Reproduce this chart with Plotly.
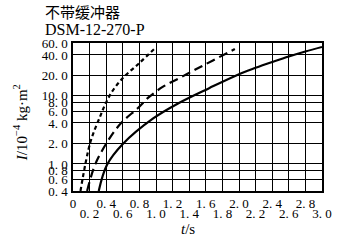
import math
import plotly.graph_objects as go

# Data
t_solid = [0.31, 0.41, 0.60, 0.97, 1.27, 1.64, 2.02, 2.2, 2.4, 2.6, 2.8, 3.0]
i_solid = [0.4, 0.97, 1.96, 4.7, 7.8, 13.0, 21.4, 25.9, 31.5, 38.0, 45.0, 52.5]

t_dash = [0.17, 0.27, 0.43, 0.58, 0.78, 0.91, 1.09, 1.29, 1.48, 1.68, 1.95]
i_dash = [0.4, 1.0, 2.27, 4.0, 6.6, 9.5, 13.8, 18.5, 24.6, 33.0, 49.0]

t_dot = [0.09, 0.21, 0.33, 0.39, 0.465, 0.60, 0.80, 0.975]
i_dot = [0.4, 2.1, 5.1, 7.6, 11.3, 18.3, 30.5, 48.5]

y_ticks = [0.4, 0.6, 0.8, 1.0, 2.0, 4.0, 6.0, 8.0, 10.0, 20.0, 40.0, 60.0]
y_labels = ["0. 4", "0. 6", "0. 8", "1. 0", "2. 0", "4. 0", "6. 0", "8. 0",
            "10. 0", "20. 0", "40. 0", "60. 0"]
x_ticks_upper = [0.0, 0.4, 0.8, 1.2, 1.6, 2.0, 2.4, 2.8]
x_labels_upper = ["0", "0. 4", "0. 8", "1. 2", "1. 6", "2. 0", "2. 4", "2. 8"]
x_ticks_lower = [0.2, 0.6, 1.0, 1.4, 1.8, 2.2, 2.6, 3.0]
x_labels_lower = ["0. 2", "0. 6", "1. 0", "1. 4", "1. 8", "2. 2", "2. 6", "3. 0"]

title1 = "不带缓冲器"
title2 = "DSM-12-270-P"
x_title = "<i>t</i>/s"
y_title = "<i>I</i>/10<sup>−4</sup> kg·m<sup>2</sup>"

serif = "Liberation Serif, Times New Roman, serif"
tick_font = dict(family=serif, size=13, color="black")

fig = go.Figure()
fig.add_trace(go.Scatter(x=t_solid, y=i_solid, mode="lines", line_shape="spline",
                         line=dict(color="black", width=2.2, smoothing=1.0)))
fig.add_trace(go.Scatter(x=t_dash, y=i_dash, mode="lines", line_shape="spline",
                         line=dict(color="black", width=2.2, dash="9px,5px", smoothing=1.0)))
fig.add_trace(go.Scatter(x=t_dot, y=i_dot, mode="lines", line_shape="spline",
                         line=dict(color="black", width=2.2, dash="4px,3px", smoothing=1.0)))
# empty trace that carries the second (lower-row) x axis
fig.add_trace(go.Scatter(x=[], y=[], xaxis="x2", yaxis="y", hoverinfo="skip"))

common_x = dict(range=[0, 3.0], showgrid=True, gridcolor="black", gridwidth=1.2,
                zeroline=False, ticks="", tickangle=0, tickfont=tick_font)

fig.update_layout(
    width=344, height=247,
    margin=dict(l=73, r=18, t=43, b=56),
    paper_bgcolor="white", plot_bgcolor="white",
    showlegend=False,
    font=dict(family=serif, size=13, color="black"),
    xaxis=dict(**common_x, tickvals=x_ticks_upper, ticktext=x_labels_upper,
               showline=True, linecolor="black", linewidth=1.5, mirror=True,
               ticklabelstandoff=0),
    xaxis2=dict(**common_x, tickvals=x_ticks_lower, ticktext=x_labels_lower,
                overlaying="x", matches="x", anchor="y", side="bottom",
                showline=False, ticklabelstandoff=13),
    yaxis=dict(type="log", range=[math.log10(0.4), math.log10(60)],
               tickvals=y_ticks, ticktext=y_labels,
               showgrid=True, gridcolor="black", gridwidth=1.2,
               showline=True, linecolor="black", linewidth=1.5, mirror=True,
               zeroline=False, ticks="", ticklabelstandoff=1, tickfont=tick_font),
    annotations=[
        dict(text=title1, xref="paper", yref="paper", x=-0.12, y=1.212,
             xanchor="left", yanchor="middle", showarrow=False,
             font=dict(family="Noto Sans CJK SC", size=15, color="black")),
        dict(text=title2, xref="paper", yref="paper", x=-0.122, y=1.091,
             xanchor="left", yanchor="middle", showarrow=False,
             font=dict(family=serif, size=16, color="black")),
        dict(text=x_title, xref="x", yref="paper", x=1.39, y=-0.26,
             xanchor="center", yanchor="middle", showarrow=False,
             font=dict(family=serif, size=15, color="black")),
        dict(text=y_title, xref="paper", yref="paper",
             x=-0.21, y=0.463, xanchor="center", yanchor="middle", textangle=-90,
             showarrow=False, font=dict(family=serif, size=15, color="black")),
    ],
)

fig.write_html("out.html")
